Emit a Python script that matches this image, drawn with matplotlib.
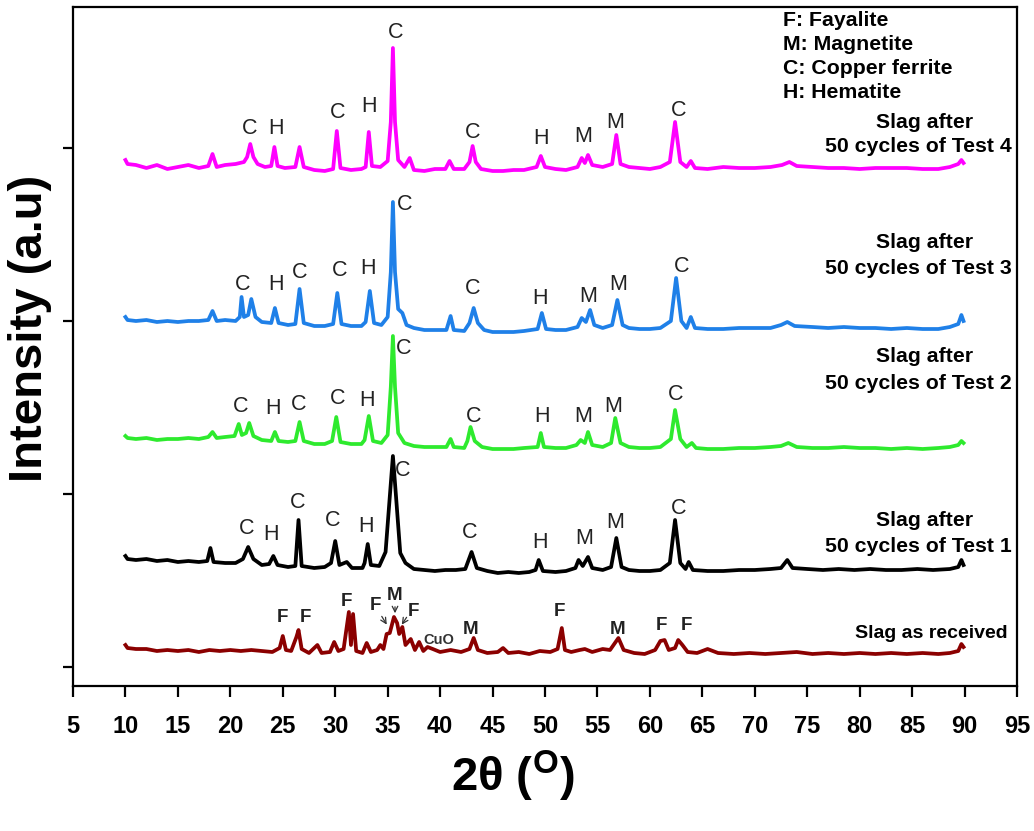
import matplotlib
matplotlib.use("Agg")
import matplotlib.pyplot as plt

plt.rcParams['font.family'] = ['Liberation Sans', 'DejaVu Sans']
plt.rcParams['mathtext.fontset'] = 'custom'
plt.rcParams['mathtext.rm'] = 'Liberation Sans:bold'
plt.rcParams['mathtext.it'] = 'Liberation Sans:bold'
plt.rcParams['mathtext.bf'] = 'Liberation Sans:bold'

# ---------------- data (2theta, intensity a.u.) ----------------
test4 = [(10.0, 507), (10.2, 503), (11, 502), (12, 499), (13, 502), (14, 498), (15, 500), (16, 502), (17, 499),
         (17.9, 501), (18.3, 513), (18.7, 500), (19.5, 502), (20.5, 503), (21.3, 505), (21.6, 510), (21.9, 523),
         (22.2, 510), (22.6, 503), (23.3, 500), (23.9, 501), (24.2, 520), (24.5, 501), (25.2, 499), (26.2, 500),
         (26.6, 520), (27.0, 500), (28, 497), (29, 496), (29.8, 498), (30.15, 536), (30.5, 499), (31.5, 497),
         (32.5, 498), (32.9, 500), (33.2, 535), (33.5, 501), (34.3, 500), (35.0, 506), (35.3, 545), (35.5, 619),
         (35.7, 545), (36.0, 507), (36.6, 500), (37.1, 509), (37.5, 497), (38.5, 496), (39.5, 498), (40.5, 498),
         (40.9, 506), (41.3, 498), (42.3, 498), (42.8, 505), (43.1, 521), (43.4, 505), (43.9, 498), (45, 496),
         (46, 496), (47, 497), (48, 497), (49.2, 500), (49.6, 511), (50, 500), (51, 498), (52, 497), (53.1, 500),
         (53.5, 509), (53.8, 504), (54.1, 512), (54.5, 502), (55.5, 500), (56.4, 503), (56.8, 532), (57.2, 503),
         (58, 500), (59, 499), (60, 498), (61, 500), (61.9, 505), (62.4, 545), (62.9, 505), (63.5, 500),
         (63.9, 506), (64.3, 499), (65.5, 498), (67, 500), (68.5, 499), (70, 499), (71.5, 500), (72.6, 502),
         (73.3, 505), (74, 501), (75.5, 500), (77, 499), (78.5, 499), (80, 498), (81.5, 499), (83, 499),
         (84.5, 499), (86, 498), (87.5, 498), (88.6, 500), (89.4, 503), (89.7, 507), (89.9, 504)]

test3 = [(10.0, 350), (10.2, 347), (11, 346), (12, 347), (13, 345), (14, 346), (15, 345), (16, 346), (17, 346),
         (17.9, 347), (18.3, 356), (18.7, 346), (19.5, 347), (20.5, 346), (20.9, 350), (21.07, 370), (21.3, 350),
         (21.7, 352), (22.0, 368), (22.4, 350), (23.0, 345), (23.9, 344), (24.25, 359), (24.6, 344), (25.5, 342),
         (26.2, 343), (26.6, 378), (27.0, 344), (28, 341), (29, 341), (29.8, 343), (30.2, 374), (30.6, 343),
         (31.5, 341), (32.5, 341), (32.9, 345), (33.3, 376), (33.7, 344), (34.4, 342), (35.0, 350), (35.3, 395),
         (35.5, 465), (35.7, 395), (36.0, 358), (36.4, 354), (36.8, 342), (37.5, 339), (38.5, 337), (39.5, 337),
         (40.6, 337), (41.0, 351), (41.3, 337), (42.3, 336), (42.8, 344), (43.2, 359), (43.6, 344), (44.2, 337),
         (45, 335), (46, 335), (47, 335), (48, 336), (49.3, 338), (49.7, 354), (50.1, 338), (51, 337), (52, 337),
         (53.1, 340), (53.5, 349), (53.9, 345), (54.3, 357), (54.7, 342), (55.5, 339), (56.4, 342), (56.9, 367),
         (57.4, 342), (58, 339), (59, 338), (60, 338), (61, 339), (62.0, 346), (62.5, 389), (63.0, 346),
         (63.5, 339), (63.9, 350), (64.3, 339), (65.5, 338), (67, 338), (68.5, 339), (70, 339), (71.5, 339),
         (72.5, 342), (73.1, 345), (73.8, 341), (75.5, 340), (77, 339), (78.5, 340), (80, 339), (81.5, 339),
         (83, 338), (84.5, 339), (86, 338), (87.5, 338), (88.6, 340), (89.4, 343), (89.7, 352), (89.9, 346)]

test2 = [(10.0, 231), (10.2, 229), (11, 228), (12, 229), (13, 227), (14, 228), (15, 228), (16, 229), (17, 228),
         (17.9, 230), (18.3, 235), (18.7, 229), (19.5, 230), (20.4, 231), (20.8, 243), (21.1, 232), (21.5, 234),
         (21.8, 244), (22.2, 231), (23, 227), (23.9, 226), (24.25, 235), (24.6, 226), (25.5, 225), (26.2, 226),
         (26.6, 245), (27.0, 226), (28, 223), (29, 223), (29.7, 226), (30.1, 250), (30.5, 225), (31.5, 223),
         (32.5, 223), (32.8, 227), (33.2, 251), (33.6, 226), (34.4, 224), (35.0, 232), (35.3, 280), (35.5, 331),
         (35.7, 280), (36.0, 234), (36.6, 224), (37.5, 221), (38.5, 220), (39.5, 220), (40.6, 220), (41.0, 228),
         (41.3, 220), (42.3, 219), (42.6, 226), (42.9, 240), (43.3, 226), (44, 220), (45, 218), (46, 218),
         (47, 218), (48, 219), (49.3, 220), (49.6, 234), (49.9, 220), (51, 219), (52, 219), (53.0, 222),
         (53.4, 227), (53.8, 224), (54.1, 235), (54.5, 222), (55.5, 220), (56.3, 224), (56.7, 249), (57.2, 224),
         (58, 220), (59, 219), (60, 219), (61, 220), (62.0, 228), (62.4, 257), (62.9, 228), (63.5, 220),
         (64.0, 224), (64.4, 219), (65.5, 218), (67, 218), (68.5, 219), (70, 219), (71.5, 220), (72.5, 221),
         (73.2, 224), (74, 220), (75.5, 219), (77, 219), (78.5, 220), (80, 219), (81.5, 219), (83, 218),
         (84.5, 219), (86, 218), (87.5, 219), (88.6, 220), (89.4, 222), (89.7, 226), (89.9, 224)]

test1 = [(10.0, 111), (10.2, 108), (11, 107), (12, 108), (13, 106), (14, 107), (15, 105), (16, 106), (17, 105),
         (17.8, 106), (18.1, 119), (18.4, 105), (19.5, 104), (20.5, 104), (21.2, 108), (21.7, 120), (22.2, 108),
         (23, 102), (23.7, 103), (24.1, 111), (24.5, 102), (25.5, 100), (26.2, 101), (26.5, 147), (26.8, 101),
         (28, 99), (29, 100), (29.6, 104), (30.0, 126), (30.4, 102), (31.1, 105), (31.6, 99), (32.6, 99),
         (32.8, 104), (33.1, 123), (33.4, 102), (34.2, 101), (34.8, 115), (35.2, 170), (35.5, 211), (35.8, 170),
         (36.2, 114), (36.7, 104), (37.5, 98), (38.5, 97), (39.5, 96), (40.5, 97), (41.5, 97), (42.4, 98),
         (43.0, 115), (43.5, 99), (44.5, 96), (45.5, 94), (46.5, 95), (47.5, 94), (48.5, 95), (49.1, 97),
         (49.4, 107), (49.8, 96), (51, 95), (52, 96), (52.9, 99), (53.2, 107), (53.6, 101), (54.1, 110),
         (54.5, 99), (55.5, 97), (56.3, 100), (56.8, 129), (57.3, 100), (58, 97), (59, 96), (60, 96), (61, 97),
         (61.9, 104), (62.4, 147), (62.9, 104), (63.4, 98), (63.7, 105), (64.1, 97), (65.5, 96), (67, 96),
         (68.5, 97), (70, 97), (71.5, 98), (72.5, 99), (73.1, 107), (73.6, 99), (75, 98), (76.5, 97), (78, 98),
         (79.5, 97), (81, 98), (82.5, 97), (84, 97), (85.5, 98), (87, 97), (88.6, 98), (89.4, 100), (89.7, 107),
         (89.9, 102)]

received = [(10.0, 22), (10.2, 19), (11, 18), (12, 18), (13, 16), (14, 17), (15, 16), (16, 17), (17, 15), (18, 17),
            (19, 16), (20, 17), (21, 16), (22, 17), (23, 16), (24, 15), (24.7, 19), (25.0, 31), (25.3, 17),
            (25.8, 16), (26.3, 30), (26.5, 37), (26.8, 18), (27.5, 14), (28.3, 22), (28.7, 14), (29.5, 15),
            (29.9, 25), (30.3, 16), (30.8, 18), (31.3, 55), (31.5, 22), (31.7, 53), (32.0, 16), (32.6, 14),
            (33.0, 24), (33.4, 15), (34.0, 17), (34.3, 22), (34.6, 18), (34.9, 33), (35.2, 34), (35.6, 50),
            (35.9, 44), (36.1, 33), (36.4, 40), (36.7, 22), (37.2, 28), (37.6, 17), (38.0, 25), (38.4, 16),
            (38.8, 20), (39.3, 18), (40, 15), (41, 17), (42, 15), (42.8, 18), (43.2, 29), (43.6, 17), (44.5, 14),
            (45.5, 15), (46, 19), (46.5, 14), (47.5, 15), (48.5, 13), (49.5, 16), (50.5, 15), (51.2, 18),
            (51.6, 39), (51.9, 17), (52.5, 15), (53.3, 17), (53.8, 18), (54.5, 15), (55.5, 18), (56.2, 17),
            (57.0, 29), (57.5, 17), (58.5, 14), (59.5, 13), (60.5, 17), (61.0, 26), (61.4, 27), (61.8, 17),
            (62.4, 19), (62.7, 27), (63.1, 22), (63.6, 15), (64.5, 14), (65.5, 18), (66.5, 14), (68, 13),
            (69.5, 14), (71, 13), (72.5, 14), (74, 15), (75.5, 13), (77, 14), (78.5, 13), (80, 14), (81.5, 13),
            (83, 14), (84.5, 13), (86, 14), (87.5, 13), (88.6, 14), (89.4, 16), (89.7, 23), (89.9, 20)]

series_colors = ["#ff00ff", "#1f80e8", "#2eea2e", "#000000", "#8b0000"]

# phase labels: (2theta, intensity, letter)
labels4 = [(21.8, 538, "C"), (24.4, 539, "H"), (30.2, 554, "C"), (33.2, 561, "H"), (35.8, 634, "C"),
           (43.1, 534, "C"), (49.6, 529, "H"), (53.6, 531, "M"), (56.7, 545, "M"), (62.7, 557, "C")]
labels3 = [(21.2, 383, "C"), (24.4, 383, "H"), (26.6, 395, "C"), (30.4, 396, "C"), (33.1, 398, "H"),
           (36.6, 462, "C"), (43.1, 378, "C"), (49.5, 368, "H"), (54.1, 371, "M"), (57.0, 383, "M"), (63.0, 401, "C")]
labels2 = [(21.0, 260, "C"), (24.1, 258, "H"), (26.5, 262, "C"), (30.2, 268, "C"), (33.0, 267, "H"),
           (36.5, 318, "C"), (43.2, 251, "C"), (49.7, 250, "H"), (53.6, 250, "M"), (56.5, 260, "M"), (62.5, 272, "C")]
labels1 = [(21.6, 138, "C"), (23.9, 132, "H"), (26.4, 164, "C"), (29.8, 146, "C"), (32.9, 141, "H"),
           (36.4, 196, "C"), (42.8, 134, "C"), (49.5, 124, "H"), (53.7, 128, "M"), (56.7, 145, "M"), (62.7, 158, "C")]
labels0 = [(25.0, 50, "F"), (27.2, 50, "F"), (31.1, 65, "F"), (33.8, 61, "F"), (35.7, 71, "M"), (37.5, 55, "F"),
           (42.95, 37, "M"), (51.4, 55, "F"), (56.9, 37, "M"), (61.1, 41, "F"), (63.5, 41, "F")]

legend_lines = ["F: Fayalite", "M: Magnetite", "C: Copper ferrite", "H: Hematite"]
sample_names = [("Slag after", "50 cycles of Test 4"), ("Slag after", "50 cycles of Test 3"),
                ("Slag after", "50 cycles of Test 2"), ("Slag after", "50 cycles of Test 1")]
x_ticks = list(range(5, 100, 5))

# ---------------- figure ----------------
W, H = 1034, 831
fig = plt.figure(figsize=(W / 100, H / 100), dpi=100)
ax = fig.add_axes([73 / W, 1 - 686 / H, (1017 - 73) / W, (686 - 7) / H])

for data, col in zip([test4, test3, test2, test1, received], series_colors):
    xs, ys = zip(*data)
    ax.plot(xs, ys, color=col, lw=2.7, solid_joinstyle='round')

ax.set_xlim(5, 95)
ax.set_ylim(-19, 660)
ax.set_xticks(x_ticks)
ax.set_xticklabels([str(t) for t in x_ticks], fontsize=17, fontweight='bold')
ax.set_yticks([0, 173, 346, 519])
ax.set_yticklabels([])
ax.tick_params(axis='x', direction='out', length=8, width=1.6, pad=13)
ax.tick_params(axis='y', direction='out', length=7, width=1.6)
for s in ax.spines.values():
    s.set_linewidth(1.6)

for lab in (labels4, labels3, labels2, labels1):
    for x, y, t in lab:
        ax.text(x, y, t, fontsize=15.5, color="#222222", ha='center', va='center')

for x, y, t in labels0:
    ax.text(x, y, t, fontsize=13.5, fontweight='bold', color="#222222", ha='center', va='center')
ax.text(39.9, 27, "CuO", fontsize=10.5, fontweight='bold', color="#333333", ha='center', va='center')
arrow_kw = dict(arrowstyle='->', color='#333333', lw=0.9)
ax.annotate("", xy=(35.05, 40), xytext=(34.3, 53), arrowprops=arrow_kw)
ax.annotate("", xy=(35.7, 51), xytext=(35.7, 63), arrowprops=arrow_kw)
ax.annotate("", xy=(36.2, 40), xytext=(36.95, 52), arrowprops=arrow_kw)

# legend-like key
for i, t in enumerate(legend_lines):
    fig.text(783 / W, 1 - (20 + 24.3 * i) / H, t, fontsize=15.3, fontweight='bold', ha='left', va='center')

# sample names
name_pos = [(123, 147), (243, 268), (357, 383), (520, 546)]
for (l1, l2), (y1, y2) in zip(sample_names, name_pos):
    fig.text(925 / W, 1 - y1 / H, l1, fontsize=15.3, fontweight='bold', ha='center', va='center')
    fig.text(918 / W, 1 - y2 / H, l2, fontsize=15.3, fontweight='bold', ha='center', va='center')
fig.text(1008 / W, 1 - 634 / H, "Slag as received", fontsize=14, fontweight='bold', ha='right', va='center')

fig.text(30 / W, 1 - 328 / H, "Intensity (a.u)", fontsize=34, fontweight='bold', rotation=90,
         ha='center', va='center')
fig.text(513 / W, 1 - 776 / H, "2θ ($^{O}$)", fontsize=34, fontweight='bold', ha='center', va='center')

fig.savefig("out.png", dpi=100)
